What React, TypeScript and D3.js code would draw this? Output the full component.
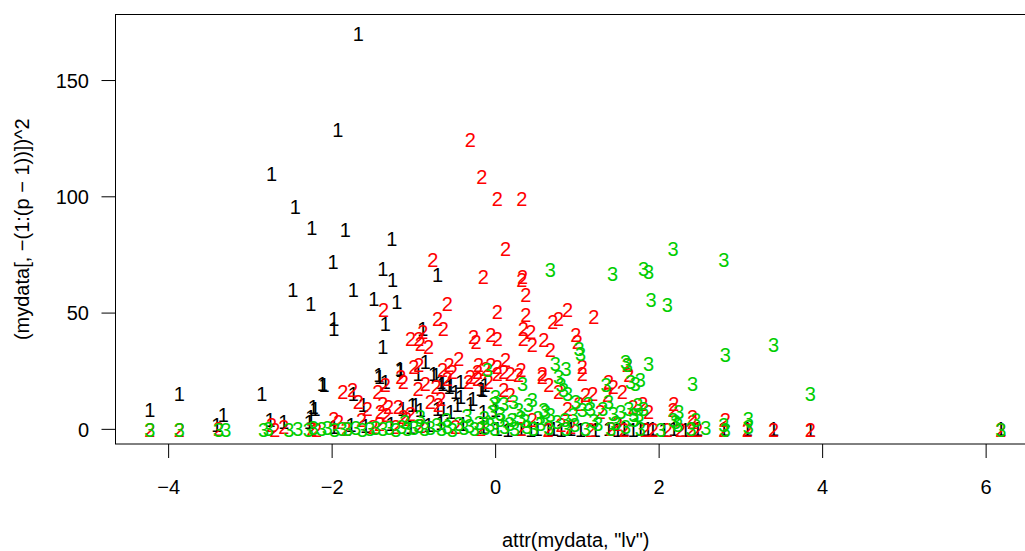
import * as d3 from "d3";

// group 1 (black "1")
const group1: [number, number][] = [
  [-1.68, 170.1], [-1.93, 128.9], [-2.74, 110.0], [-2.45, 95.8], [-2.25, 86.8], [-1.84, 85.9],
  [-1.27, 82.0], [-1.99, 72.2], [-1.38, 69.2], [-1.26, 64.4], [-0.71, 66.6], [-2.48, 60.1],
  [-1.74, 60.1], [-2.26, 54.1], [-1.49, 56.3], [-1.21, 55.0], [-1.98, 47.7], [-1.98, 43.4],
  [-1.35, 45.5], [-0.89, 43.4], [-1.38, 35.7],
  [-0.86, 29.2], [-1.16, 25.8], [-0.95, 24.1], [-1.43, 23.6], [-1.35, 20.6], [-2.12, 19.8],
  [-0.73, 23.6], [-0.67, 20.6], [-0.55, 19.3], [-0.43, 20.6], [-2.23, 9.9], [-2.26, 5.6],
  [-1.62, 10.7], [-1.14, 9.0], [-0.98, 10.7], [-0.64, 9.0], [-0.47, 10.7], [-0.28, 13.3],
  [-0.16, 17.2], [-4.23, 8.6], [-3.87, 15.5], [-3.33, 6.4], [-3.41, 2.1], [-2.86, 15.5],
  [-2.76, 4.3], [-2.59, 3.4], [-2.28, 3.4], [-2.21, 9.0], [-2.10, 19.3], [-1.74, 15.5],
  [-1.42, 22.8], [-1.17, 26.2],
  [-0.76, 24.1], [-0.65, 19.8], [-0.57, 18.5], [-0.49, 16.3], [-0.43, 14.2], [-0.31, 11.2],
  [-0.18, 17.6], [-1.02, 10.7], [-0.92, 8.6], [-0.71, 9.0], [-0.55, 7.7], [-0.15, 7.7],
  [0.0, 8.6], [-0.13, 19.3],
  [-1.98, 1.3], [-1.77, 2.1], [-1.59, 1.7], [-1.28, 2.6], [-1.04, 1.3], [-0.82, 2.1],
  [-0.67, 3.0], [-0.40, 2.6], [-0.15, 0.9], [0.02, 0.4], [0.15, 0.0], [0.31, 0.4],
  [0.43, 0.0], [0.51, 0.2], [0.64, 0.0], [0.71, 0.4], [0.80, 0.0], [0.92, 0.4],
  [1.04, 0.0], [1.22, 0.0], [1.38, 0.2], [1.49, 0.0], [1.57, 0.4], [1.68, 0.0],
  [1.77, 0.2], [1.86, 0.4], [1.92, 0.4], [2.06, 0.0], [2.18, 0.2], [2.32, 0.0],
  [2.47, 0.4], [2.79, 0.4], [3.08, 0.4], [3.40, 0.2], [3.85, 0.0], [6.18, 0.2],
];

// group 2 (red "2")
const group2: [number, number][] = [
  [-0.31, 124.6], [-0.17, 108.7], [0.02, 99.2], [0.32, 99.2], [0.12, 77.7], [-0.77, 73.0],
  [-0.15, 65.7], [0.32, 64.4], [0.33, 65.7], [0.37, 58.0], [-0.59, 54.1], [-1.37, 51.5],
  [0.02, 50.7], [-0.71, 47.7], [-0.64, 43.4], [0.37, 49.4], [-0.89, 42.1], [0.34, 43.4],
  [0.43, 42.1], [-0.06, 40.8], [0.02, 39.1], [-0.27, 39.9],
  [0.88, 51.5], [0.77, 47.7], [0.70, 46.4], [1.20, 48.5], [0.98, 40.8], [0.45, 36.5],
  [0.59, 38.7], [0.67, 34.4], [1.00, 37.8],
  [-0.45, 30.5], [-0.21, 27.9], [-0.06, 27.9], [0.12, 30.1], [0.31, 25.8], [0.57, 24.1],
  [1.06, 27.1], [1.61, 27.9], [-0.53, 24.9], [-0.31, 22.8], [0.02, 24.1], [0.18, 24.1],
  [-0.94, 39.1], [-0.92, 36.9], [-0.82, 35.7], [-0.24, 37.8],
  [-0.94, 27.9], [-0.57, 27.9], [-0.65, 25.8], [-1.13, 20.6], [-1.87, 16.3], [-1.75, 17.2],
  [-1.44, 16.3], [-1.35, 19.3], [-0.33, 20.6], [-0.22, 21.9], [-0.09, 20.6], [-0.86, 19.8],
  [-0.95, 17.6], [-1.68, 12.0], [-1.57, 9.0], [-1.38, 11.2], [-1.31, 9.9], [-1.41, 7.7],
  [-0.80, 12.0], [-0.70, 10.7], [-0.67, 13.3], [-1.98, 4.7], [-1.92, 3.4],
  [-1.19, 9.9], [-1.64, 4.3], [-1.33, 6.4], [-1.42, 2.6], [-1.09, 4.7],
  [-4.23, 0.0], [-3.87, 0.0], [-3.39, 0.2], [-2.74, 2.1], [-2.70, 0.0], [-2.59, 1.3],
  [-2.25, 0.4], [-2.19, 0.0], [-1.83, 0.4], [-1.50, 0.9], [-1.22, 1.3], [-0.92, 1.7],
  [-1.04, 39.1], [0.34, 39.1], [-1.00, 27.1], [-0.22, 24.9], [-0.59, 21.9], [-0.73, 18.5],
  [-0.12, 26.2], [0.02, 27.1], [0.10, 24.9], [0.28, 23.6], [0.10, 17.2], [0.18, 15.0],
  [0.57, 22.8], [0.65, 19.3], [1.06, 24.1], [0.77, 16.3], [1.10, 15.0], [1.19, 15.5],
  [1.37, 15.0], [1.38, 20.6], [1.44, 18.5], [1.55, 16.3], [1.63, 23.6], [1.80, 11.2],
  [1.87, 7.7], [1.68, 9.9], [2.18, 11.2], [2.17, 8.6], [2.41, 3.4], [2.26, 0.0],
  [1.83, 0.0], [1.93, 0.0], [2.10, 0.0], [1.49, 2.6], [0.88, 9.0], [1.02, 11.2],
  [1.28, 7.7], [0.45, 4.3], [0.64, 0.0], [0.80, 2.1], [-1.13, 5.6], [-1.04, 6.9],
  [-1.16, 22.8],
  [2.41, 5.6], [2.81, 4.3], [2.39, 0.0], [2.47, 0.0], [2.79, 0.0], [3.08, 0.0],
  [3.40, 0.0], [3.85, 0.0], [6.18, 0.0],
  [1.16, 0.0], [1.57, 0.0], [1.41, 0.4], [0.31, 0.4], [0.92, 0.9], [-0.49, 0.9], [-0.18, 0.4],
];

// group 3 (green "3")
const group3: [number, number][] = [
  [0.67, 68.7], [1.43, 67.0], [1.81, 69.2], [1.87, 67.9], [2.17, 77.7], [2.79, 73.0],
  [1.90, 55.8], [2.10, 53.7], [1.02, 34.8], [1.04, 32.6], [3.40, 36.5], [2.81, 32.2],
  [0.73, 28.4], [0.86, 26.2], [1.59, 29.2], [1.61, 27.9], [1.87, 28.4], [-0.10, 25.8],
  [2.41, 19.8], [3.85, 15.5], [1.77, 21.5],
  [0.77, 22.8], [0.33, 19.8], [0.80, 19.3], [0.83, 17.2], [0.88, 15.5], [1.35, 19.3],
  [1.65, 20.6], [1.71, 19.8], [0.0, 14.2], [-0.02, 11.2], [0.10, 11.2], [0.40, 10.7],
  [0.28, 8.6], [0.59, 8.6], [0.67, 6.4], [0.95, 6.4], [1.06, 8.6], [1.16, 9.0],
  [1.31, 9.0], [1.44, 6.9], [1.53, 7.7], [1.69, 6.4], [1.69, 4.3], [2.24, 7.7],
  [2.39, 0.4], [-0.04, 7.7], [0.22, 12.0], [0.45, 12.9], [0.61, 7.7], [0.98, 12.0],
  [1.13, 11.2], [1.38, 12.0], [1.63, 9.0], [1.74, 10.7], [1.75, 6.4], [2.17, 4.3],
  [2.23, 2.1], [1.81, 9.0], [2.20, 3.4], [2.45, 4.3], [2.79, 2.1], [2.81, 0.0],
  [3.09, 4.7], [3.09, 1.3], [6.18, 0.0],
  [-4.23, 0.0], [-3.87, 0.0], [-3.39, 0.0], [-3.30, 0.0], [-2.84, 0.0], [-2.78, 0.3],
  [-2.53, 0.0], [-2.42, 0.2], [-2.29, 0.0], [-2.23, 0.6], [-2.13, 0.1], [-2.06, 0.5],
  [-1.97, 0.0], [-1.88, 0.4], [-1.81, 0.1], [-1.71, 0.6], [-1.63, 0.0], [-1.54, 0.3],
  [-1.47, 0.8], [-1.38, 0.1], [-1.30, 0.5], [-1.22, 0.0], [-1.15, 0.9], [-1.08, 0.2],
  [-1.00, 0.6], [-0.94, 1.5], [-0.87, 0.1], [-0.80, 0.8], [-0.72, 2.0], [-0.66, 0.3],
  [-0.59, 1.1], [-0.53, 0.0], [-0.45, 2.4], [-0.39, 0.5], [-0.32, 1.4], [-0.26, 0.2],
  [-0.20, 3.0], [-0.13, 0.7], [-0.07, 1.8], [-0.01, 0.1], [0.05, 4.0], [0.11, 0.9],
  [0.17, 2.5], [0.23, 0.3], [0.31, 5.0], [0.38, 1.2], [0.46, 0.2], [0.55, 2.2],
  [0.65, 0.5], [0.75, 3.1], [0.86, 0.3], [0.97, 1.8], [1.10, 0.4], [1.25, 2.6],
  [1.41, 0.2], [1.59, 1.3], [1.77, 0.4], [2.02, 0.0], [2.57, 0.6],
  [-1.11, 3.4], [-0.92, 5.2], [-0.60, 4.3], [-0.35, 6.0], [-0.14, 5.0], [0.06, 6.5],
  [0.20, 4.2], [0.36, 3.6], [0.52, 4.8], [0.85, 4.0], [1.20, 3.5], [1.47, 2.8],
];

const groups = [
  { label: "1", color: "#000000", points: group1 },
  { label: "2", color: "#FF0000", points: group2 },
  { label: "3", color: "#00CD00", points: group3 },
];

const xTicks = [-4, -2, 0, 2, 4, 6];
const yTicks = [0, 50, 100, 150];

const width = 1025;
const height = 551;
const plot = { left: 115.5, right: 1036, top: 14.5, bottom: 444 };
const font = "'Liberation Sans', Arial, Helvetica, sans-serif";
const fs = 20;

export default function App() {
  const x = d3.scaleLinear().domain([-4.65, 6.61]).range([plot.left, plot.right]);
  const y = d3.scaleLinear().domain([-6.3, 178.4]).range([plot.bottom, plot.top]);

  return (
    <svg
      width={width}
      height={height}
      style={{ position: "absolute", left: 0, top: 0, background: "#fff" }}
      fontFamily={font}
    >
      <rect x={0} y={0} width={width} height={height} fill="#fff" />

      {/* points drawn as their group number */}
      {groups.map((g) =>
        g.points.map((p, i) => (
          <text
            key={g.label + i}
            x={x(p[0])}
            y={y(p[1])}
            dy="0.36em"
            textAnchor="middle"
            fontSize={fs}
            fill={g.color}
          >
            {g.label}
          </text>
        ))
      )}

      {/* box */}
      <rect
        x={plot.left}
        y={plot.top}
        width={plot.right - plot.left}
        height={plot.bottom - plot.top}
        fill="none"
        stroke="#000"
        strokeWidth={1}
      />

      {/* x axis */}
      {xTicks.map((t) => (
        <g key={"x" + t}>
          <line x1={x(t)} x2={x(t)} y1={plot.bottom} y2={plot.bottom + 14} stroke="#000" />
          <text x={x(t)} y={494} textAnchor="middle" fontSize={fs} fill="#000">
            {t < 0 ? "\u2212" + Math.abs(t) : String(t)}
          </text>
        </g>
      ))}

      {/* y axis */}
      {yTicks.map((t) => (
        <g key={"y" + t}>
          <line x1={plot.left} x2={plot.left - 14} y1={y(t)} y2={y(t)} stroke="#000" />
          <text x={89} y={y(t)} dy="0.36em" textAnchor="end" fontSize={fs} fill="#000">
            {String(t)}
          </text>
        </g>
      ))}

      {/* titles */}
      <text x={(plot.left + plot.right) / 2} y={547} textAnchor="middle" fontSize={fs} fill="#000">
        attr(mydata, "lv")
      </text>
      <text
        transform={`translate(29,${(plot.top + plot.bottom) / 2}) rotate(-90)`}
        textAnchor="middle"
        fontSize={fs}
        fill="#000"
      >
        (mydata[, −(1:(p − 1))])^2
      </text>
    </svg>
  );
}
